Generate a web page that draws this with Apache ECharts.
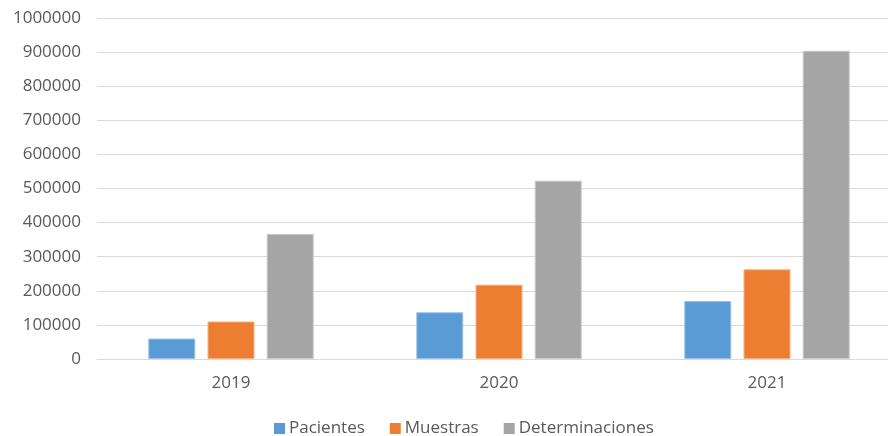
<!DOCTYPE html>
<html>
<head>
<meta charset="utf-8">
<script src="https://cdn.jsdelivr.net/npm/echarts@6/dist/echarts.min.js"></script>
<style>
  html, body { margin: 0; padding: 0; background: #fff; }
  #chart { width: 888px; height: 436px; }
</style>
</head>
<body>
<div id="chart"></div>
<script>
// datos
const years = ["2019", "2020", "2021"];
const pacientes = [60000, 137000, 170000];
const muestras = [110000, 218000, 263000];
const determinaciones = [367000, 523000, 904000];

const textColor = "#595959";
const font = "Open Sans";

let myChart = echarts.init(document.getElementById("chart"));

let option = {
  animation: false,
  textStyle: { fontFamily: font },
  grid: {
    left: 97,
    width: 804, // en el original el gráfico sale cortado por la derecha
    top: 18,
    height: 341,
    outerBoundsMode: "none",
    containLabel: false,
  },
  legend: {
    top: 415,
    left: 269,
    itemWidth: 11,
    itemHeight: 11,
    itemGap: 25,
    icon: "rect",
    itemStyle: { borderWidth: 0 },
    textStyle: { color: textColor, fontSize: 17, fontFamily: font, padding: [0, 0, 0, -1] },
    data: ["Pacientes", "Muestras", "Determinaciones"],
  },
  xAxis: {
    type: "category",
    data: years,
    axisLine: { lineStyle: { color: "#d9d9d9" } },
    axisTick: { show: false },
    axisLabel: { color: textColor, fontSize: 17, margin: 16 },
  },
  yAxis: {
    type: "value",
    min: 0,
    max: 1000000,
    interval: 100000,
    axisLine: { show: false },
    axisTick: { show: false },
    splitLine: { lineStyle: { color: "#d9d9d9" } },
    axisLabel: {
      color: textColor,
      fontSize: 17,
      margin: 16,
      formatter: (v) => String(v),
    },
  },
  series: [
    {
      name: "Pacientes",
      type: "bar",
      data: pacientes,
      barWidth: 47,
      barGap: "26%",
      itemStyle: { color: "#5B9BD5", borderColor: "#9cc3e6", borderWidth: 1 },
    },
    {
      name: "Muestras",
      type: "bar",
      data: muestras,
      barWidth: 47,
      barGap: "26%",
      itemStyle: { color: "#ED7D31", borderColor: "#f4b183", borderWidth: 1 },
    },
    {
      name: "Determinaciones",
      type: "bar",
      data: determinaciones,
      barWidth: 47,
      barGap: "26%",
      itemStyle: { color: "#A5A5A5", borderColor: "#c9c9c9", borderWidth: 1 },
    },
  ],
};

option && myChart.setOption(option);
</script>
</body>
</html>
